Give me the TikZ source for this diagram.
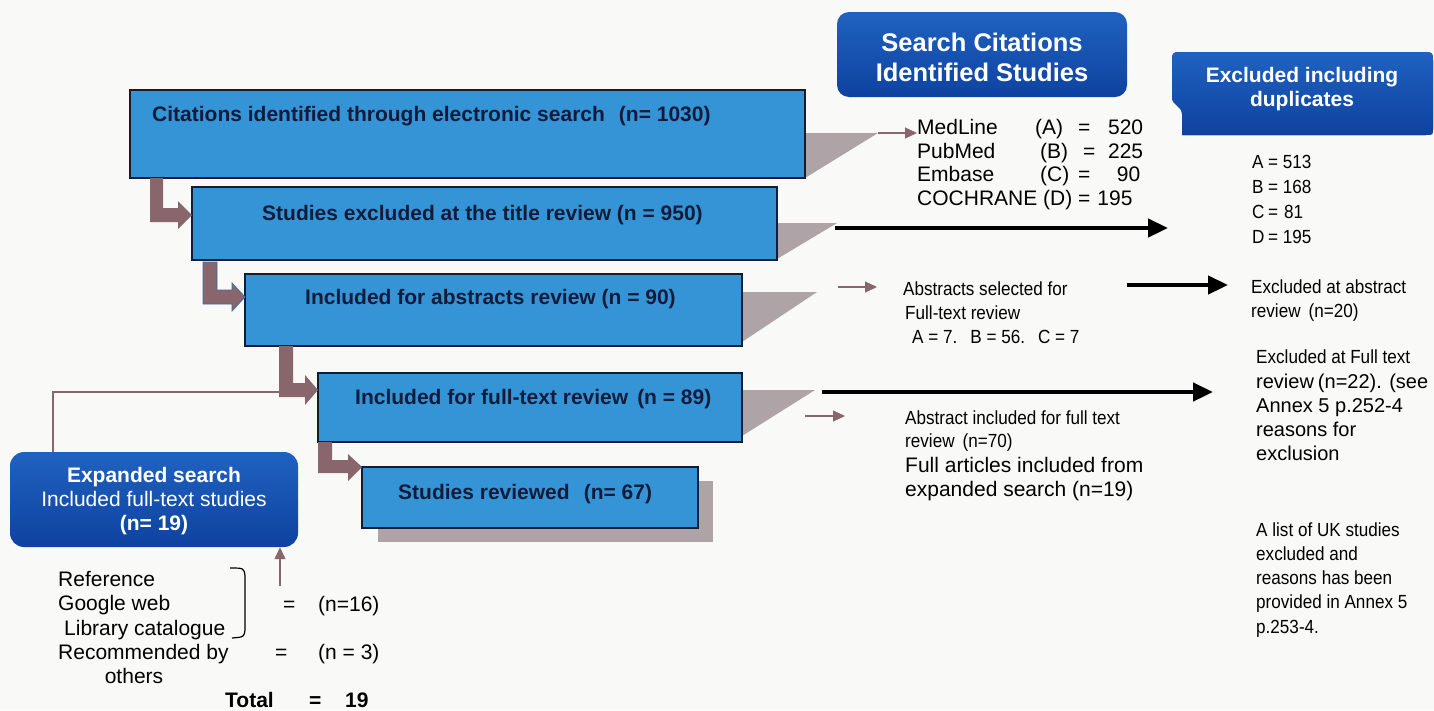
\documentclass[tikz,border=0pt]{standalone}
\usepackage{fontspec}
\setmainfont{Liberation Sans}
\newfontfamily\narrowfont[FakeStretch=0.9]{Liberation Sans}
\usetikzlibrary{arrows.meta}

\definecolor{boxblue}{RGB}{52,148,214}
\definecolor{boxedge}{RGB}{20,28,50}
\definecolor{boxtxt}{RGB}{18,28,58}
\definecolor{hdrtop}{RGB}{32,98,192}
\definecolor{hdrbot}{RGB}{14,66,160}
\definecolor{shadowgray}{RGB}{174,164,168}
\definecolor{mauve}{RGB}{136,102,108}
\definecolor{bg}{RGB}{249,249,247}
\definecolor{edgeblue}{RGB}{60,110,170}

\tikzset{
  flowbox/.style={draw=boxedge, line width=1.3pt, fill=boxblue, inner sep=0pt},
  boxtext/.style={anchor=base west, inner sep=0pt, text=boxtxt, font=\bfseries\fontsize{21}{24}\selectfont},
  hdrbox/.style={rounded corners=12pt, top color=hdrtop, bottom color=hdrbot, draw=none, inner sep=0pt},
  hdrtext/.style={text=white, inner sep=0pt, align=center},
  reg/.style={anchor=base west, inner sep=0pt, font=\fontsize{21}{24}\selectfont},
  mid/.style={anchor=base west, inner sep=0pt, font=\fontsize{20}{24}\selectfont},
  nar/.style={anchor=base west, inner sep=0pt, font=\narrowfont\fontsize{19}{22}\selectfont},
  boldtxt/.style={anchor=base west, inner sep=0pt, font=\bfseries\fontsize{21}{24}\selectfont},
  bentarrow/.style={fill=mauve},
  thinarrow/.style={draw=mauve, line width=1.1pt, -{Triangle[length=12pt,width=11pt]}},
  thickarrow/.style={draw=black, line width=4.5pt, -{Triangle[length=20pt,width=18pt]}},
  shadowtri/.style={fill=shadowgray}
}

\begin{document}
\begin{tikzpicture}[x=1pt,y=-1pt]
\fill[bg] (0,0) rectangle (1434,710);
\useasboundingbox (0,0) rectangle (1434,710);

% shadows
\fill[shadowtri] (805,133) -- (878,133) -- (805,178) -- cycle;
\fill[shadowtri] (777,223) -- (837,223) -- (777,259) -- cycle;
\fill[shadowtri] (742,292) -- (817,292) -- (742,342) -- cycle;
\fill[shadowtri] (742,390) -- (815,390) -- (742,436) -- cycle;
\fill[shadowtri] (378,481) rectangle (713,542);

% main boxes
\node[flowbox, minimum width=675pt, minimum height=88pt] (b1) at (467.5,134) {};
\node[flowbox, minimum width=585pt, minimum height=73pt] (b2) at (484.5,223.5) {};
\node[flowbox, minimum width=497pt, minimum height=72pt] (b3) at (493.5,310) {};
\node[flowbox, minimum width=424pt, minimum height=69pt] (b4) at (530,407.5) {};
\node[flowbox, minimum width=336pt, minimum height=61pt] (b5) at (530,497.5) {};

\node[boxtext] (t1) at (152,121.5) {Citations identified through electronic search\hspace{14pt}(n= 1030)};
\node[boxtext] (t2) at (262,220.5) {Studies excluded at the title review (n = 950)};
\node[boxtext] (t3) at (305,304.5) {Included for abstracts review (n = 90)};
\node[boxtext] (t4) at (355,404.5) {Included for full-text review\hspace{9pt}(n = 89)};
\node[boxtext] (t5) at (398,499.5) {Studies reviewed\hspace{14pt}(n= 67)};

% bent arrows
\fill[bentarrow] (150,178) -- (163,178) -- (163,208) -- (178,208) -- (178,201) -- (192,215) -- (178,229) -- (178,222) -- (150,222) -- cycle;
\filldraw[bentarrow, draw=edgeblue, line width=0.8pt] (203,262) -- (217,262) -- (217,290) -- (232,290) -- (232,283) -- (245,297) -- (232,311) -- (232,304) -- (203,304) -- cycle;
\fill[bentarrow] (279,346) -- (293,346) -- (293,383) -- (305,383) -- (305,375) -- (318,390) -- (305,405) -- (305,397) -- (279,397) -- cycle;
\fill[bentarrow] (318,442) -- (332,442) -- (332,460) -- (348,460) -- (348,454) -- (362,467) -- (348,481) -- (348,473) -- (318,473) -- cycle;

% headers
\node[hdrbox, minimum width=290pt, minimum height=85pt] (h1) at (982,54.5) {};
\node[hdrtext, font=\bfseries\fontsize{25.5}{30}\selectfont] (h1t) at (982,57) {Search Citations\\Identified Studies};
\fill[top color=hdrtop, bottom color=hdrbot] (1184,52) -- (1421,52) .. controls (1433,52) .. (1433,64) -- (1433,127) .. controls (1433,135) .. (1425,135) -- (1182,135) -- (1182,114) .. controls (1182,106) and (1173,106) .. (1172,98) -- (1172,64) .. controls (1172,52) .. (1184,52) -- cycle;
\node[hdrtext, font=\bfseries\fontsize{21}{24}\selectfont] (h2t) at (1302,89) {Excluded including\\duplicates};

% search citation list
\node[reg] (ml) at (917,134.5) {\makebox[118pt][l]{MedLine}\makebox[43pt][l]{(A)}\makebox[20pt][l]{=}\makebox[45pt][r]{520}};
\node[reg] (pm) at (917,158.5) {\makebox[123pt][l]{PubMed}\makebox[43pt][l]{(B)}\makebox[20pt][l]{=}\makebox[40pt][r]{225}};
\node[reg] (em) at (917,181.5) {\makebox[123pt][l]{Embase}\makebox[38pt][l]{(C)}\makebox[20pt][l]{=}\makebox[42pt][r]{90}};
\node[reg] (co) at (917,205.5) {COCHRANE (D) =\hspace{7pt}195};

% excluded list
\node[nar] (xa) at (1252,168) {\makebox[16pt][l]{A}= 513};
\node[nar] (xb) at (1252,193) {\makebox[16pt][l]{B}= 168};
\node[nar] (xc) at (1252,218) {\makebox[16pt][l]{C}=\hspace{6pt}81};
\node[nar] (xd) at (1252,243) {\makebox[16pt][l]{D}= 195};

% abstracts selected
\node[nar] (as1) at (903,295.5) {Abstracts selected for};
\node[nar] (as2) at (905,319.5) {Full-text review};
\node[nar] (as3) at (912,343.5) {A = 7.\hspace{13pt}B = 56.\hspace{13pt}C = 7};

\node[nar] (ea1) at (1251,293.5) {Excluded at abstract};
\node[nar] (ea2) at (1251,317.5) {review\hspace{8pt}(n=20)};

\node[nar] (ef1) at (1256,363.5) {Excluded at Full text};
\node[mid] (ef2) at (1256,388) {review\hspace{4pt}(n=22). (see};
\node[mid] (ef3) at (1256,412) {Annex 5 p.252-4};
\node[mid] (ef4) at (1256,436) {reasons for};
\node[mid] (ef5) at (1256,460) {exclusion};

\node[nar] (ai1) at (905,424.5) {Abstract included for full text};
\node[nar] (ai2) at (905,447.5) {review\hspace{8pt}(n=70)};
\node[reg] (ai3) at (905,472.5) {Full articles included from};
\node[reg] (ai4) at (905,496.5) {expanded search (n=19)};

\node[nar] (uk1) at (1256,536.5) {A list of UK studies};
\node[nar] (uk2) at (1256,560.5) {excluded and};
\node[nar] (uk3) at (1256,584.5) {reasons has been};
\node[nar] (uk4) at (1256,608.5) {provided in Annex 5};
\node[nar] (uk5) at (1256,633.5) {p.253-4.};

% expanded search box
\node[hdrbox, rounded corners=14pt, minimum width=288pt, minimum height=95pt] (ex) at (154,499.5) {};
\node[hdrtext, font=\fontsize{21}{24}\selectfont] (ext) at (154,501) {\textbf{Expanded search}\\Included full-text studies\\\textbf{(n= 19)}};

% bottom-left lists
\node[reg] (r1) at (58,586.5) {Reference};
\node[reg] (r2) at (58,610.5) {Google web};
\node[reg] (r3) at (64,635) {Library catalogue};
\node[reg] (r4) at (58,659.5) {Recommended by};
\node[reg, anchor=base] (r5) at (134,683.5) {others};
\node[reg] (e1) at (283,611) {=};
\node[reg] (n1) at (318,611) {(n=16)};
\node[reg] (e2) at (275,659.5) {=};
\node[reg] (n2) at (318,659.5) {(n = 3)};
\node[boldtxt] (tot) at (225,707.5) {Total};
\node[boldtxt] (te) at (309,707.5) {=};
\node[boldtxt] (tn) at (345,707.5) {19};
\draw[line width=1.2pt] (230,568) .. controls (244,568) .. (245,576) -- (245,630) .. controls (244,637) .. (232,638);

% connectors
\coordinate (s1) at (878,133);
\coordinate (s3) at (838,287);
\coordinate (s4) at (805,416);
\draw[thinarrow] (s1) -- (ml.west |- s1);
\draw[thinarrow] (s3) -- (877,287);
\draw[thinarrow] (s4) -- (845,416);

\coordinate (k2a) at (835,228);
\coordinate (k2b) at (1168,228);
\draw[thickarrow] (k2a) -- (k2b);
\coordinate (k3a) at (1127,285);
\coordinate (k3b) at (1228,285);
\draw[thickarrow] (k3a) -- (k3b);
\coordinate (k4a) at (822,392);
\coordinate (k4b) at (1213,392);
\draw[thickarrow] (k4a) -- (k4b);

\coordinate (jn) at (280,392);
\draw[mauve, line width=1.1pt] (ex.north -| 53,0) -- (53,392) -- (jn);
\coordinate (up) at (280,586);
\draw[thinarrow, line width=1.3pt] (up) -- (up |- ex.south);
\end{tikzpicture}
\end{document}
